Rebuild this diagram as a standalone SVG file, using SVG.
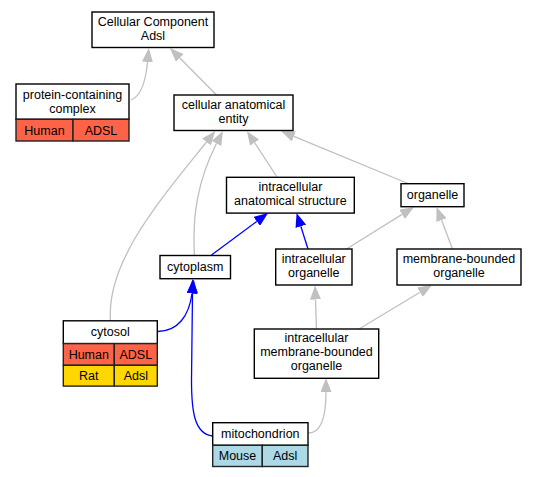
<svg xmlns="http://www.w3.org/2000/svg" width="536" height="477" viewBox="0 0 536 477">
<defs>
<marker id="ag" viewBox="0 0 14 11" refX="0" refY="5.5" markerWidth="14" markerHeight="11" markerUnits="userSpaceOnUse" orient="auto"><path d="M0,0 L14,5.5 L0,11 z" fill="#c0c0c0"/></marker>
<marker id="ab" viewBox="0 0 14 11" refX="0" refY="5.5" markerWidth="14" markerHeight="11" markerUnits="userSpaceOnUse" orient="auto"><path d="M0,0 L14,5.5 L0,11 z" fill="#0000ff"/></marker>
</defs>
<style>
text{font-family:"Liberation Sans",Arial,sans-serif;font-size:12.5px;fill:#000;text-anchor:middle}
.box{fill:#fff;stroke:#000;stroke-width:1.4}
.cell{stroke:#222;stroke-width:1.4}
.hu{fill:#ff6347}.rat{fill:#ffd700}.mo{fill:#add8e6}
.eg{fill:none;stroke:#c0c0c0;stroke-width:1.3;marker-end:url(#ag)}
.eb{fill:none;stroke:#0000ff;stroke-width:1.3;marker-end:url(#ab)}
</style>
<rect width="536" height="477" fill="#fff"/>
<g id="edges">
<path class="eg" d="M131,100 C142,96 146,78 147.5,62"/>
<path class="eg" d="M216.5,95 L179.8,58"/>
<path class="eg" d="M277,177 L254.6,142.7"/>
<path class="eg" d="M408,183.5 L293.9,136.4"/>
<path class="eg" d="M194.5,256 C192,215 198,180 216.5,143.5"/>
<path class="eg" d="M110.5,321 C106,262 160,200 206.5,142"/>
<path class="eb" d="M211.5,255 L256.8,221.4"/>
<path class="eb" d="M308,249 L300.8,226.3"/>
<path class="eg" d="M346.5,249 L402.1,214.4"/>
<path class="eg" d="M452.5,249 L441.5,220.1"/>
<path class="eg" d="M316.5,329 L315.5,299.5"/>
<path class="eg" d="M359,329 L420,292.2"/>
<path class="eg" d="M308.5,433 C320,433 326,420 326,392"/>
<path class="eb" d="M158,331.5 C178,331 189,316 192,293.5"/>
<path class="eb" d="M212.5,436 C194,434 191.5,410 191.5,380 L192.5,293"/>
</g>
<g id="cc">
<rect class="box" x="92" y="12" width="122" height="35.5"/>
<text x="153" y="26.3">Cellular Component</text>
<text x="153" y="40.3">Adsl</text>
</g>
<g id="pcc">
<rect class="box" x="16" y="84" width="113" height="35.3"/>
<text x="72.5" y="98.5">protein-containing</text>
<text x="72.5" y="112.5">complex</text>
<rect class="cell hu" x="16" y="119.3" width="57" height="21.7"/>
<rect class="cell hu" x="73" y="119.3" width="56" height="21.7"/>
<text x="44.5" y="134.5">Human</text>
<text x="101" y="134.5">ADSL</text>
</g>
<g id="cae">
<rect class="box" x="174" y="95" width="119" height="35.5"/>
<text x="233.5" y="108.8">cellular anatomical</text>
<text x="233.5" y="122.8">entity</text>
</g>
<g id="ias">
<rect class="box" x="226.5" y="177.3" width="127.8" height="35.8"/>
<text x="290.4" y="191">intracellular</text>
<text x="290.4" y="205">anatomical structure</text>
</g>
<g id="organelle">
<rect class="box" x="401" y="183.7" width="63" height="23"/>
<text x="432.5" y="199.3">organelle</text>
</g>
<g id="cytoplasm">
<rect class="box" x="160" y="255.5" width="70.5" height="23.2"/>
<text x="195.2" y="271">cytoplasm</text>
</g>
<g id="io">
<rect class="box" x="275.7" y="249" width="76.3" height="36"/>
<text x="313.8" y="263">intracellular</text>
<text x="313.8" y="277">organelle</text>
</g>
<g id="mbo">
<rect class="box" x="397" y="249" width="124" height="36"/>
<text x="459" y="263">membrane-bounded</text>
<text x="459" y="277">organelle</text>
</g>
<g id="cytosol">
<rect class="box" x="63.3" y="320.8" width="94" height="22.8"/>
<text x="110.3" y="336">cytosol</text>
<rect class="cell hu" x="63.3" y="343.6" width="51" height="21.7"/>
<rect class="cell hu" x="114.3" y="343.6" width="43" height="21.7"/>
<text x="88.8" y="358.5">Human</text>
<text x="135.8" y="358.5">ADSL</text>
<rect class="cell rat" x="63.3" y="365.3" width="51" height="20.8"/>
<rect class="cell rat" x="114.3" y="365.3" width="43" height="20.8"/>
<text x="88.8" y="379.5">Rat</text>
<text x="135.8" y="379.5">Adsl</text>
</g>
<g id="imbo">
<rect class="box" x="254.3" y="329" width="124.4" height="49.3"/>
<text x="316.5" y="342.2">intracellular</text>
<text x="316.5" y="356.2">membrane-bounded</text>
<text x="316.5" y="370.2">organelle</text>
</g>
<g id="mito">
<rect class="box" x="212.7" y="422.7" width="95.3" height="22.6"/>
<text x="260.3" y="438">mitochondrion</text>
<rect class="cell mo" x="212.7" y="445.3" width="49.6" height="21.2"/>
<rect class="cell mo" x="262.3" y="445.3" width="45.7" height="21.2"/>
<text x="237.5" y="460">Mouse</text>
<text x="285.2" y="460">Adsl</text>
</g>
</svg>
